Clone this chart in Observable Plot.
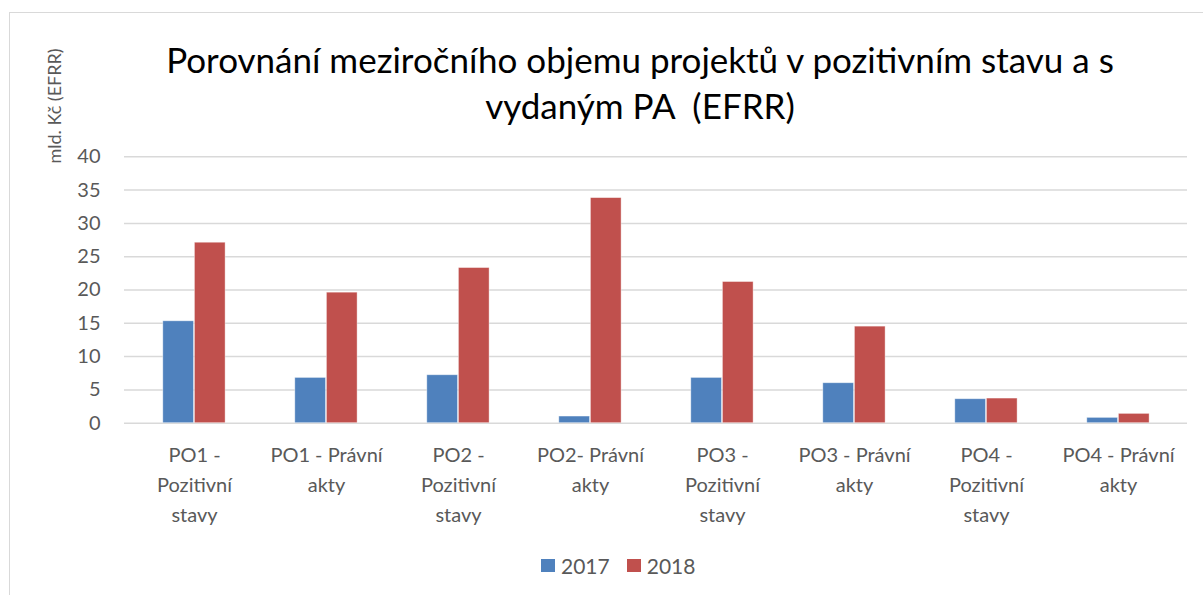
<!DOCTYPE html>
<html>
<head>
<meta charset="utf-8">
<script src="https://cdn.jsdelivr.net/npm/d3@7"></script>
<script src="https://cdn.jsdelivr.net/npm/@observablehq/plot@0.6"></script>
<style>
  html, body { margin: 0; padding: 0; background: #fff; }
  body { width: 1203px; height: 595px; overflow: hidden; position: relative; font-family: Lato, "Open Sans", sans-serif; }
  #frame { position: absolute; left: 9px; top: 12px; width: 1300px; height: 700px; border-left: 1.5px solid #d9d9d9; border-top: 1.5px solid #d9d9d9; }
  #title { position: absolute; left: 140px; width: 1000px; top: 36px; text-align: center; font-size: 35px; line-height: 46px; color: #000; white-space: pre; }
  #ylabel { position: absolute; left: 54px; top: 106px; transform: translate(-50%, -50%) rotate(-90deg); font-size: 18px; color: #595959; white-space: nowrap; }
  #chart { position: absolute; left: 0; top: 0; }
  #legend { position: absolute; top: 553px; left: 541px; font-size: 21px; color: #595959; display: flex; align-items: center; white-space: nowrap; }
  .sw { display: inline-block; width: 14px; height: 13px; margin-right: 6px; }
</style>
</head>
<body>
<div id="frame"></div>
<div id="title"></div>
<div id="ylabel"></div>
<div id="chart"></div>
<div id="legend"></div>
<script>
const categories = [
  "PO1 - Pozitivní stavy",
  "PO1 - Právní akty",
  "PO2 - Pozitivní stavy",
  "PO2- Právní akty",
  "PO3 - Pozitivní stavy",
  "PO3 - Právní akty",
  "PO4 - Pozitivní stavy",
  "PO4 - Právní akty"
];
const categoryLabels = [
  "PO1 -\nPozitivní\nstavy",
  "PO1 - Právní\nakty",
  "PO2 -\nPozitivní\nstavy",
  "PO2- Právní\nakty",
  "PO3 -\nPozitivní\nstavy",
  "PO3 - Právní\nakty",
  "PO4 -\nPozitivní\nstavy",
  "PO4 - Právní\nakty"
];
const series = ["2017", "2018"];
const values2017 = [15.3, 6.8, 7.2, 1.0, 6.8, 6.0, 3.6, 0.8];
const values2018 = [27.1, 19.6, 23.3, 33.8, 21.2, 14.5, 3.7, 1.4];
const yTicks = [0, 5, 10, 15, 20, 25, 30, 35, 40];
const colors = ["#4F81BD", "#C0504D"];
const titleLines = ["Porovnání meziročního objemu projektů v pozitivním stavu a s", "vydaným PA  (EFRR)"];
const yLabel = "mld. Kč (EFRR)";

const d2017 = categories.map((c, i) => ({cat: c, year: series[0], value: values2017[i]}));
const d2018 = categories.map((c, i) => ({cat: c, year: series[1], value: values2018[i]}));
const labelOf = new Map(categories.map((c, i) => [c, categoryLabels[i]]));

document.getElementById("title").textContent = titleLines.join("\n");
document.getElementById("ylabel").textContent = yLabel;

const W = 1203, H = 595;
const plot = Plot.plot({
  width: W,
  height: H,
  marginTop: 156.3,
  marginBottom: H - 422.7,
  marginLeft: 124,
  marginRight: W - 1187,
  style: {fontFamily: "Lato, 'Open Sans', sans-serif", background: "transparent", color: "#595959"},
  x: {domain: categories, padding: 0, label: null},
  y: {domain: [0, 40], label: null},
  color: {domain: series, range: colors},
  marks: [
    Plot.ruleY(yTicks, {stroke: "#d9d9d9", strokeWidth: 1.5}),
    Plot.barY(d2017, {x: "cat", y: "value", fill: "year", insetLeft: 34.8, insetRight: 66.5, stroke: "#fff", strokeOpacity: 0.5, strokeWidth: 0.8}),
    Plot.barY(d2018, {x: "cat", y: "value", fill: "year", insetLeft: 66.4, insetRight: 34.9, stroke: "#fff", strokeOpacity: 0.5, strokeWidth: 0.8}),
    Plot.axisY({ticks: yTicks, tickSize: 0, tickPadding: 24, fontSize: 20, fill: "#595959", label: null}),
    Plot.axisX({tickSize: 0, tickPadding: 18, fontSize: 20, lineHeight: 1.5, fill: "#595959", tickFormat: d => labelOf.get(d), label: null})
  ]
});
document.getElementById("chart").appendChild(plot);

const legend = document.getElementById("legend");
series.forEach((s, i) => {
  const sw = document.createElement("span");
  sw.className = "sw";
  sw.style.background = colors[i];
  legend.appendChild(sw);
  const t = document.createElement("span");
  t.textContent = s;
  t.style.marginRight = i === 0 ? "17px" : "0";
  legend.appendChild(t);
});
</script>
</body>
</html>
